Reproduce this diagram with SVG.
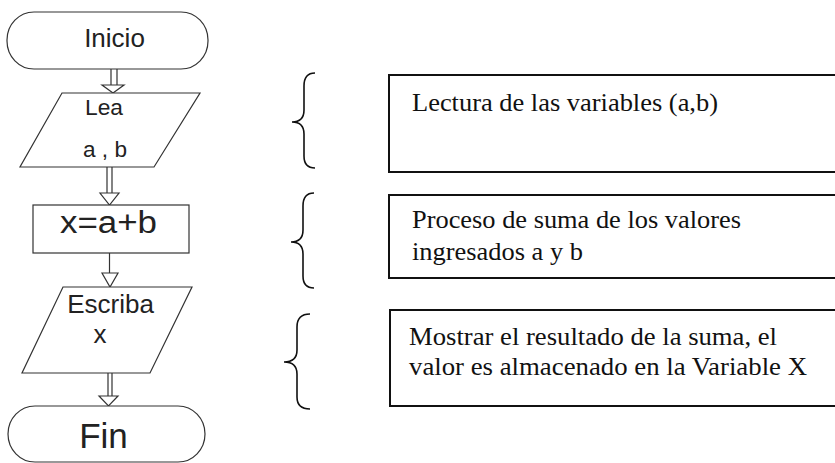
<svg xmlns="http://www.w3.org/2000/svg" width="835" height="463" viewBox="0 0 835 463">
<style>
.shape{fill:#fff;stroke:#333;stroke-width:1.2}
.conn{fill:#fff;stroke:#333;stroke-width:1.2}
.brace{fill:none;stroke:#111;stroke-width:1.6}
.note{fill:#fff;stroke:#111;stroke-width:2}
.sans{font-family:"Liberation Sans",Arial,sans-serif;fill:#222}
.serif{font-family:"Liberation Serif","Times New Roman",serif;font-size:25px;fill:#111}
</style>
<rect width="835" height="463" fill="#fff"/>
<g id="connectors">
<path class="conn" d="M111,69 V85 M117,69 V85"/>
<path class="conn" d="M102,85 H124 L113,93 Z"/>
<path class="conn" d="M107,167 V193 M112,167 V193"/>
<path class="conn" d="M100,193 H119 L109.5,205 Z"/>
<path class="conn" d="M109.5,253 V273"/>
<path class="conn" d="M102,273 H118 L110,287 Z"/>
<path class="conn" d="M108,373 V396 M112,373 V396"/>
<path class="conn" d="M99,396 H118 L108.5,406 Z"/>
</g>
<g id="inicio">
<rect class="shape" x="7" y="12" width="201" height="57" rx="27" ry="28"/>
<text class="sans" x="114.5" y="47" font-size="26" text-anchor="middle">Inicio</text>
</g>
<g id="lea">
<polygon class="shape" points="62,93 200,93 154,167 20,167"/>
<text class="sans" x="104" y="115" font-size="22" text-anchor="middle" textLength="38" lengthAdjust="spacingAndGlyphs">Lea</text>
<text class="sans" x="105" y="157" font-size="22" text-anchor="middle" textLength="44" lengthAdjust="spacingAndGlyphs">a , b</text>
</g>
<g id="suma">
<rect class="shape" x="33" y="205" width="156" height="48"/>
<text class="sans" x="108.5" y="233" font-size="31" text-anchor="middle" textLength="97" lengthAdjust="spacingAndGlyphs">x=a+b</text>
</g>
<g id="escriba">
<polygon class="shape" points="63,287 192,287 150,373 22,373"/>
<text class="sans" x="110.5" y="313" font-size="26" text-anchor="middle">Escriba</text>
<text class="sans" x="100" y="343" font-size="26" text-anchor="middle">x</text>
</g>
<g id="fin">
<rect class="shape" x="8" y="406" width="197" height="56" rx="27" ry="28"/>
<text class="sans" x="103.5" y="448" font-size="35" text-anchor="middle">Fin</text>
</g>
<g id="brace1">
<path class="brace" d="M315,73 C307,73 304,78 304,86 L304,110 C304,118 300,122 292,122 C300,122 304,126 304,134 L304,156 C304,164 307,168 315,168"/>
</g>
<g id="brace2">
<path class="brace" d="M314,193 C306,193 303,198 303,206 L303,230 C303,238 299,242 291,242 C299,242 303,246 303,254 L303,276 C303,284 306,288 314,288"/>
</g>
<g id="brace3">
<path class="brace" d="M310,314 C301,314 297,319 297,327 L297,350 C297,358 292,362 284,362 C292,362 297,366 297,374 L297,397 C297,405 301,409 310,409"/>
</g>
<g id="note1">
<rect class="note" x="389" y="75" width="460" height="97"/>
<text class="serif" x="412" y="111" textLength="306" lengthAdjust="spacingAndGlyphs">Lectura de las variables (a,b)</text>
</g>
<g id="note2">
<rect class="note" x="389" y="195" width="460" height="83"/>
<text class="serif" x="412" y="228" textLength="329" lengthAdjust="spacingAndGlyphs">Proceso de suma de los valores</text>
<text class="serif" x="412" y="260" textLength="171" lengthAdjust="spacingAndGlyphs">ingresados a y b</text>
</g>
<g id="note3">
<rect class="note" x="390" y="310" width="460" height="96"/>
<text class="serif" x="409" y="345" textLength="368" lengthAdjust="spacingAndGlyphs">Mostrar el resultado de la suma, el</text>
<text class="serif" x="409" y="375" textLength="398" lengthAdjust="spacingAndGlyphs">valor es almacenado en la Variable X</text>
</g>
</svg>
